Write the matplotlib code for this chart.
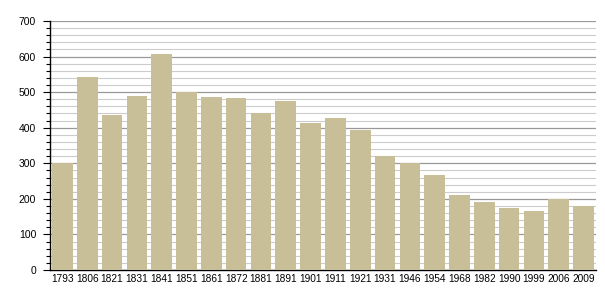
import matplotlib
matplotlib.use("Agg")
import matplotlib.pyplot as plt
from matplotlib.ticker import MultipleLocator

years = ["1793", "1806", "1821", "1831", "1841", "1851", "1861", "1872", "1881", "1891",
         "1901", "1911", "1921", "1931", "1946", "1954", "1968", "1982", "1990", "1999",
         "2006", "2009"]
population = [300, 542, 436, 489, 607, 500, 486, 483, 440, 475,
              413, 427, 394, 320, 300, 268, 211, 192, 175, 167,
              200, 180]

plt.rcParams['font.family'] = ['Liberation Sans', 'DejaVu Sans']

fig = plt.figure(figsize=(6.05, 3.0), dpi=100)
ax = fig.add_axes([50 / 605, 30 / 300, 546 / 605, 249 / 300])

x = list(range(len(years)))
ax.bar(x, population, width=0.83, color="#c8bf98", zorder=3)

ax.set_xlim(-0.5, len(years) - 0.5)
ax.set_ylim(0, 700)
ax.set_xticks(x)
ax.set_xticklabels(years, fontsize=7.3)
ax.yaxis.set_major_locator(MultipleLocator(100))
ax.yaxis.set_minor_locator(MultipleLocator(20))
ax.tick_params(axis='y', labelsize=7.5, which='major', length=5, width=0.8, color='black', pad=5)
ax.tick_params(axis='y', which='minor', length=3, width=0.8, color='black')
ax.tick_params(axis='x', length=0, pad=3)

ax.grid(axis='y', which='major', color='#999999', linewidth=0.9, zorder=0)
ax.grid(axis='y', which='minor', color='#cccccc', linewidth=0.8, zorder=0)

for s in ['top', 'right']:
    ax.spines[s].set_visible(False)
ax.spines['left'].set_linewidth(1.0)
ax.spines['bottom'].set_linewidth(1.0)

fig.savefig("out.png", dpi=100)
